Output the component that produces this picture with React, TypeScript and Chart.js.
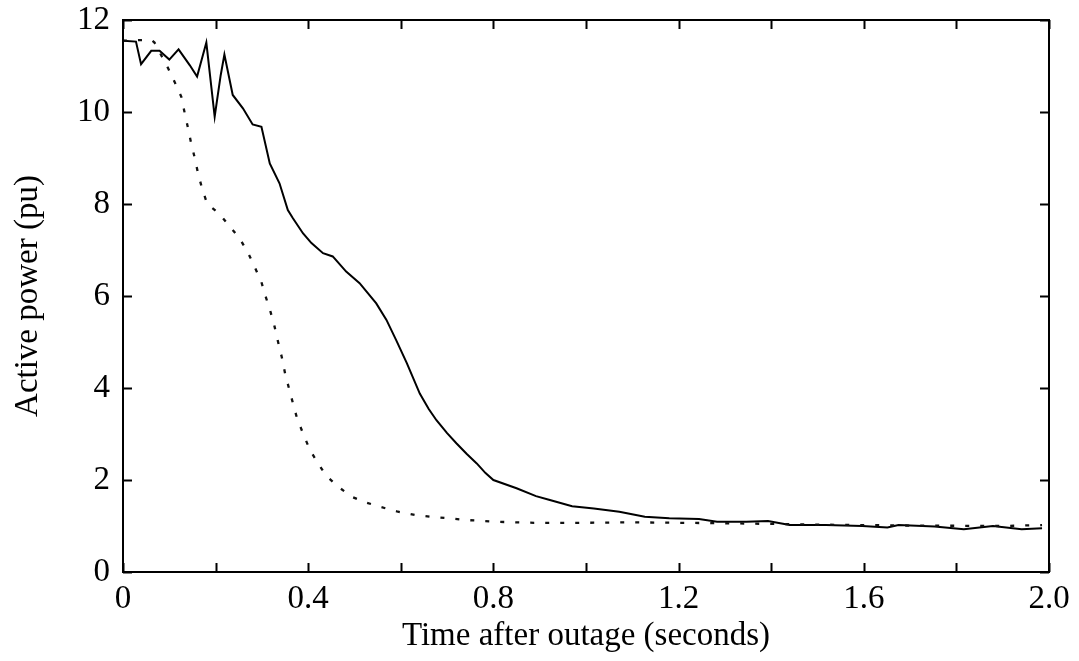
import React, { useEffect, useRef } from "react";
import { Chart, registerables } from "chart.js";

Chart.register(...registerables);

// Time (s) and active power (pu)
const solidTime = [
  0.0, 0.028, 0.039, 0.061, 0.079, 0.1, 0.12, 0.144, 0.16, 0.18, 0.198, 0.211, 0.219, 0.237,
  0.259, 0.28, 0.299, 0.317, 0.338, 0.356, 0.367, 0.389, 0.407, 0.432, 0.453, 0.482, 0.511,
  0.547, 0.569, 0.59, 0.613, 0.641, 0.66, 0.677, 0.7, 0.72, 0.742, 0.764, 0.783, 0.8, 0.85,
  0.892, 0.92, 0.97, 1.017, 1.072, 1.127, 1.18, 1.244, 1.283, 1.346, 1.393, 1.44, 1.518,
  1.597, 1.651, 1.675, 1.753, 1.816, 1.879, 1.941, 1.985,
];
const solidPower = [
  11.55, 11.53, 11.04, 11.33, 11.33, 11.14, 11.36, 11.02, 10.77, 11.51, 9.9, 10.8, 11.25, 10.37,
  10.08, 9.73, 9.68, 8.88, 8.45, 7.87, 7.69, 7.36, 7.15, 6.93, 6.86, 6.53, 6.28,
  5.84, 5.48, 5.04, 4.54, 3.88, 3.55, 3.3, 3.02, 2.8, 2.57, 2.36, 2.15, 2.0, 1.82,
  1.65, 1.57, 1.43, 1.38, 1.31, 1.2, 1.17, 1.15, 1.09, 1.09, 1.11, 1.02, 1.02,
  1.0, 0.97, 1.02, 0.99, 0.93, 1.0, 0.93, 0.95,
];

const dashedTime = [
  0.0, 0.061, 0.068, 0.097, 0.113, 0.126, 0.133, 0.14, 0.147, 0.155, 0.162, 0.171, 0.182, 0.207,
  0.23, 0.252, 0.27, 0.284, 0.299, 0.308, 0.318, 0.327, 0.335, 0.343, 0.35, 0.358, 0.367, 0.376,
  0.389, 0.403, 0.42, 0.439, 0.464, 0.493, 0.525, 0.558, 0.594, 0.63, 0.666, 0.702, 0.742, 0.778,
  0.81, 0.888, 1.0, 1.1, 1.2, 1.3, 1.5, 1.7, 1.9, 1.985,
];
const dashedPower = [
  11.55, 11.57, 11.51, 10.96, 10.62, 10.33, 9.99, 9.67, 9.33, 9.0, 8.67, 8.33, 8.0, 7.8,
  7.52, 7.25, 6.94, 6.64, 6.3, 5.99, 5.68, 5.35, 5.0, 4.67, 4.32, 4.01, 3.67, 3.34,
  3.01, 2.67, 2.38, 2.09, 1.86, 1.64, 1.51, 1.41, 1.31, 1.24, 1.2, 1.17, 1.13, 1.11,
  1.09, 1.07, 1.07, 1.08, 1.07, 1.06, 1.03, 1.01, 1.0, 1.02,
];

const xTickMarks = [0, 0.2, 0.4, 0.6, 0.8, 1.0, 1.2, 1.4, 1.6, 1.8, 2.0];
const yTickMarks = [0, 2, 4, 6, 8, 10, 12];
const xTitle = "Time after outage (seconds)";
const yTitle = "Active power (pu)";

const FONT = "'Liberation Serif', 'Times New Roman', serif";

const framePlugin = {
  id: "frameTicks",
  afterDraw(chart: any) {
    const { ctx, chartArea, scales } = chart;
    const { left, right, top, bottom } = chartArea;
    const x = scales.x;
    const y = scales.y;
    ctx.save();
    ctx.strokeStyle = "#000";
    ctx.lineWidth = 2;
    ctx.beginPath();
    ctx.rect(left, top, right - left, bottom - top);
    ctx.stroke();
    ctx.beginPath();
    for (const v of xTickMarks) {
      const px = Math.round(x.getPixelForValue(v)) + 0.5;
      ctx.moveTo(px, bottom);
      ctx.lineTo(px, bottom - 9);
      ctx.moveTo(px, top);
      ctx.lineTo(px, top + 9);
    }
    for (const v of yTickMarks) {
      const py = Math.round(y.getPixelForValue(v)) + 0.5;
      ctx.moveTo(left, py);
      ctx.lineTo(left + 9, py);
      ctx.moveTo(right, py);
      ctx.lineTo(right - 9, py);
    }
    ctx.stroke();
    ctx.restore();
  },
};

export default function App() {
  const canvasRef = useRef<HTMLCanvasElement | null>(null);

  useEffect(() => {
    const canvas = canvasRef.current;
    if (!canvas) return;
    const solid = solidTime.map((t, i) => ({ x: t, y: solidPower[i] }));
    const dashed = dashedTime.map((t, i) => ({ x: t, y: dashedPower[i] }));
    const chart = new Chart(canvas, {
      type: "line",
      data: {
        datasets: [
          {
            data: dashed,
            borderColor: "#111",
            borderWidth: 2.3,
            borderDash: [4, 11],
            pointRadius: 0,
            tension: 0,
            fill: false,
          },
          {
            data: solid,
            borderColor: "#000",
            borderWidth: 2,
            pointRadius: 0,
            tension: 0,
            fill: false,
          },
        ],
      },
      options: {
        responsive: false,
        animation: false,
        events: [],
        layout: { padding: { top: 20, right: 30, left: 0, bottom: 0 } },
        plugins: {
          legend: { display: false },
          tooltip: { enabled: false },
        },
        scales: {
          x: {
            type: "linear",
            min: 0,
            max: 2,
            afterFit: (s: any) => {
              s.height = 89;
              s.paddingLeft = 0;
              s.paddingRight = 0;
            },
            grid: { display: false, drawTicks: false },
            border: { display: false },
            ticks: {
              stepSize: 0.4,
              autoSkip: false,
              maxRotation: 0,
              padding: 8,
              color: "#000",
              font: { family: FONT, size: 33 },
              callback: (v: any) => (Number(v) === 0 ? "0" : Number(v).toFixed(1)),
            },
            title: {
              display: true,
              text: xTitle,
              color: "#000",
              font: { family: FONT, size: 33 },
              padding: { top: 0, bottom: 5 },
            },
          },
          y: {
            type: "linear",
            min: 0,
            max: 12,
            afterFit: (s: any) => {
              s.width = 123;
              s.paddingTop = 0;
              s.paddingBottom = 0;
            },
            grid: { display: false, drawTicks: false },
            border: { display: false },
            ticks: {
              stepSize: 2,
              padding: 13,
              color: "#000",
              font: { family: FONT, size: 33 },
              callback: (v: any) => String(Number(v)),
            },
            title: {
              display: true,
              text: yTitle,
              color: "#000",
              font: { family: FONT, size: 33 },
              padding: { top: 9, bottom: 0 },
            },
          },
        },
      },
      plugins: [framePlugin],
    });
    return () => chart.destroy();
  }, []);

  return (
    <div style={{ position: "fixed", left: 0, top: 0, width: 1079, height: 661, background: "#fff" }}>
      <canvas ref={canvasRef} width={1079} height={661} style={{ display: "block" }} />
    </div>
  );
}
